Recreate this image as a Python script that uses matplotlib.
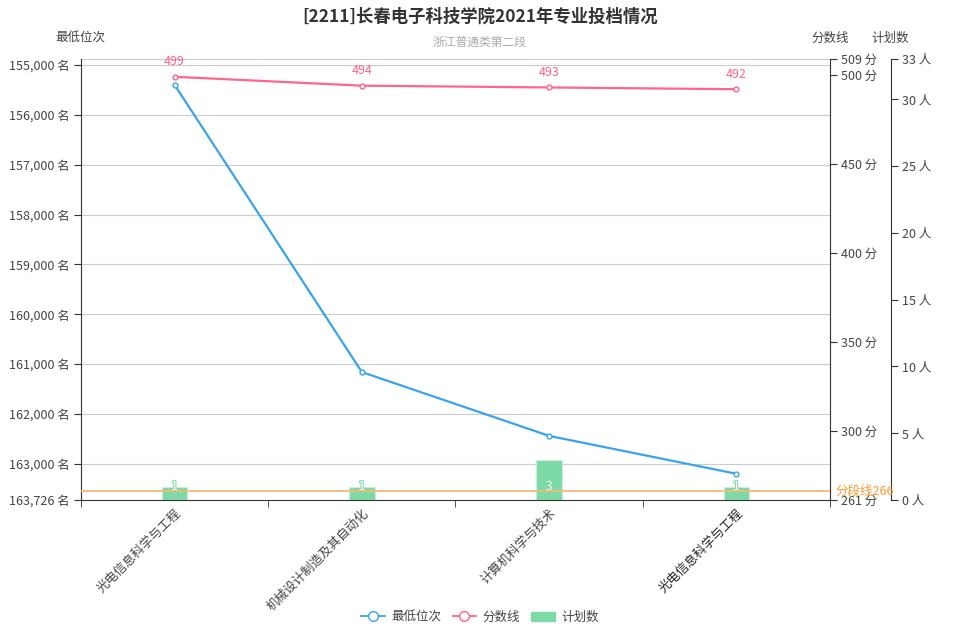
import matplotlib
matplotlib.use("Agg")
import matplotlib.pyplot as plt
import matplotlib.transforms as mtransforms
from matplotlib.lines import Line2D
from matplotlib.patches import Patch
import matplotlib.patheffects as pe

plt.rcParams['font.family'] = ['Noto Sans CJK SC', 'DejaVu Sans']

# ---- data ----
majors = ["光电信息科学与工程", "机械设计制造及其自动化", "计算机科学与技术", "光电信息科学与工程"]
min_rank = [155400, 161160, 162440, 163200]
scores = [499, 494, 493, 492]
plan = [1, 1, 3, 1]
cutoff_score = 266
cutoff_label = "分段线266"

rank_ticks = [155000, 156000, 157000, 158000, 159000, 160000, 161000, 162000, 163000, 163726]
rank_lim = (163726, 154880)
score_ticks = [261, 300, 350, 400, 450, 500, 509]
score_lim = (261, 509)
plan_ticks = [0, 5, 10, 15, 20, 25, 30, 33]
plan_lim = (0, 33)

title = "[2211]长春电子科技学院2021年专业投档情况"
subtitle = "浙江普通类第二段"

# ---- colours ----
c_blue = "#3ba3ea"
c_pink = "#ff6689"
c_green = "#7dd9a5"
c_orange_line = "#f7b77b"
c_orange_text = "#ff9a2e"
c_text = "#444444"
c_grid = "#cccccc"

W, H = 960, 640
fig = plt.figure(figsize=(W / 100, H / 100), dpi=100)
L, R, T, B = 81, 830, 59, 500
rect = [L / W, 1 - B / H, (R - L) / W, (B - T) / H]

ax3 = fig.add_axes(rect)  # plan (bars) - bottom layer
ax = fig.add_axes(rect, sharex=ax3)   # rank
ax2 = fig.add_axes(rect, sharex=ax3)  # score
ax3.set_zorder(1)
ax.set_zorder(2)
ax2.set_zorder(3)
for a in (ax, ax2):
    a.patch.set_visible(False)

x = list(range(len(majors)))

# bars
ax3.bar(x, plan, width=0.135, color=c_green, edgecolor="#c8f0d8", linewidth=0.8, zorder=2)
for xi, v in zip(x, plan):
    ax3.annotate(str(v), (xi, 0), xytext=(0, 5), textcoords="offset points",
                 ha="center", va="bottom", color="white", fontsize=9, zorder=3,
                 path_effects=[pe.withStroke(linewidth=1.5, foreground=c_green)])
ax3.set_ylim(*plan_lim)
ax3.yaxis.tick_right()
ax3.yaxis.set_label_position("right")
ax3.set_yticks(plan_ticks)
ax3.set_yticklabels([f"{t} 人" for t in plan_ticks])
for s in ("left", "top", "bottom"):
    ax3.spines[s].set_visible(False)
ax3.spines["top"].set_visible(True)
ax3.spines["top"].set_color(c_grid)
ax3.spines["top"].set_linewidth(0.8)
ax3.spines["right"].set_position(("outward", 61 * 72 / 100))
ax3.spines["right"].set_color("#333333")

# grid lines of rank axis, drawn beneath bars
blend = mtransforms.blended_transform_factory(ax3.transAxes, ax.transData)
for t in rank_ticks[:-1]:
    ax3.plot([0, 1], [t, t], transform=blend, color=c_grid, lw=0.8, zorder=1, clip_on=False)

# rank line
ax.plot(x, min_rank, color=c_blue, lw=1.6, marker="o", markersize=3.5,
        markerfacecolor="white", markeredgecolor=c_blue, markeredgewidth=1, zorder=3)
ax.set_ylim(*rank_lim)
ax.set_yticks(rank_ticks)
ax.set_yticklabels([f"{t:,} 名" for t in rank_ticks])
for s in ("right", "top"):
    ax.spines[s].set_visible(False)
ax.spines["left"].set_color("#333333")
ax.spines["bottom"].set_color("#333333")

# score line
ax2.plot(x, scores, color=c_pink, lw=1.6, marker="o", markersize=3.5,
         markerfacecolor="white", markeredgecolor=c_pink, markeredgewidth=1, zorder=3)
for xi, v in zip(x, scores):
    ax2.annotate(str(v), (xi, v), xytext=(0, 6), textcoords="offset points",
                 ha="center", va="bottom", color=c_pink, fontsize=9)
ax2.axhline(cutoff_score, color=c_orange_line, lw=1.3, zorder=2)
ax2.annotate(cutoff_label, (1, cutoff_score), xycoords=("axes fraction", "data"),
             xytext=(4, 0), textcoords="offset points", ha="left", va="center",
             color=c_orange_text, fontsize=9)
ax2.set_ylim(*score_lim)
ax2.yaxis.tick_right()
ax2.set_yticks(score_ticks)
ax2.set_yticklabels([f"{t} 分" for t in score_ticks])
for s in ("left", "top", "bottom"):
    ax2.spines[s].set_visible(False)
ax2.spines["right"].set_color("#333333")

# x axis
ax3.set_xlim(-0.5, len(majors) - 0.5)
for a in (ax2, ax3):
    a.tick_params(axis="x", which="both", bottom=False, labelbottom=False)
ax.set_xticks(x)
ax.set_xticklabels(majors)
ax.set_xticks([i - 0.5 for i in range(len(majors) + 1)], minor=True)
ax.tick_params(axis="x", which="major", length=0, pad=5, labelsize=9, labelcolor=c_text)
ax.tick_params(axis="x", which="minor", length=5, color="#333333")
for i, lab in enumerate(ax.get_xticklabels()):
    lab.set_rotation(45)
    lab.set_ha("right")
    lab.set_rotation_mode("anchor")
    if i == len(majors) - 1:
        lab.set_color("#222222")

for a in (ax, ax2, ax3):
    a.tick_params(axis="y", length=5, color="#333333", labelsize=9, labelcolor=c_text, pad=3)

# axis names
fig.text(80 / W, 1 - 38 / H, "最低位次", ha="center", va="center", fontsize=9, color=c_text)
fig.text(830 / W, 1 - 38 / H, "分数线", ha="center", va="center", fontsize=9, color=c_text)
fig.text(890 / W, 1 - 38 / H, "计划数", ha="center", va="center", fontsize=9, color=c_text)

# titles
fig.text(0.5, 1 - 17 / H, title, ha="center", va="center", fontsize=12.5, fontweight="bold", color="#333333")
fig.text(0.5, 1 - 42 / H, subtitle, ha="center", va="center", fontsize=8.5, color="#aaaaaa")

# legend
handles = [
    Line2D([], [], color=c_blue, marker="o", markersize=7, markerfacecolor="white", lw=1.3),
    Line2D([], [], color=c_pink, marker="o", markersize=7, markerfacecolor="white", lw=1.3),
    Patch(facecolor=c_green, edgecolor=c_green),
]
fig.legend(handles, ["最低位次", "分数线", "计划数"], loc="center", bbox_to_anchor=(0.5, 1 - 617 / H),
           ncol=3, frameon=False, fontsize=9, handlelength=1.9, columnspacing=0.9,
           handletextpad=0.5, labelcolor=c_text)

fig.savefig("out.png", dpi=100)
